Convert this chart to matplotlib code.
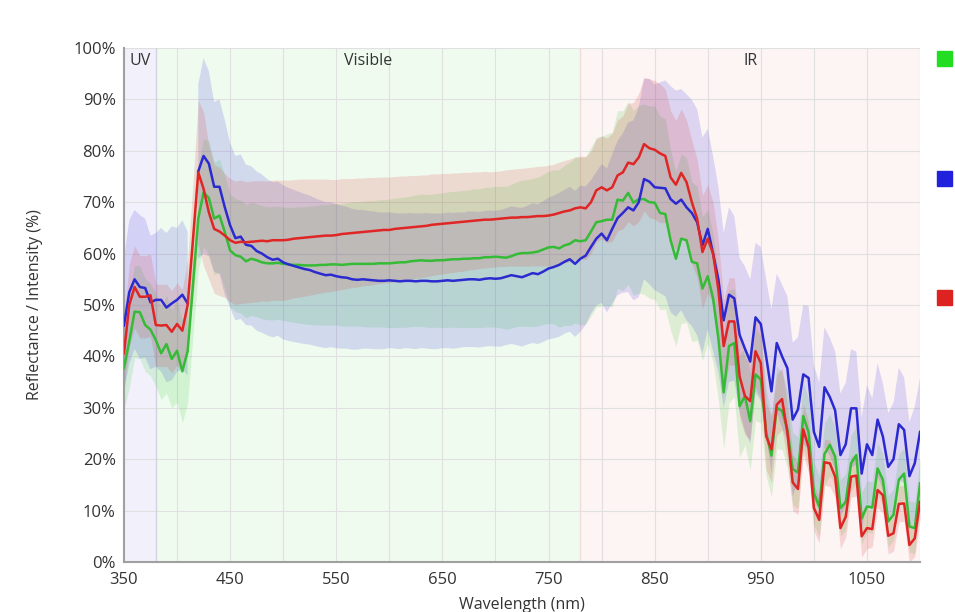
import numpy as np
import matplotlib
matplotlib.use("Agg")
import matplotlib.pyplot as plt
from matplotlib.patches import Rectangle

plt.rcParams['font.family'] = ['Open Sans', 'DejaVu Sans']

# wavelength grid, 5 nm steps
wavelength = np.arange(350, 1101, 5)

nan = np.nan

green_mean = [
    37.7, 42.9, 48.7, 48.6, 46.1, 45.2, 43.2, 40.6, 42.4, 39.5, 41.1, 37.1, 41.0,
    54.0, 66.8, 71.9, 70.8, 66.8, 67.4, 64.2, 60.6, 59.7, 59.4, 58.5, 59.0, 58.7, 58.3, 58.1, 58.1, 58.2, 58.0,
    57.9, 57.8, 57.8, 57.7, 57.7, 57.7, 57.8, 57.8, 57.9, 57.9, 57.8, 57.9, 58.0, 58.0, 58.0, 58.0, 58.0, 58.1, 58.1, 58.1,
    58.2, 58.3, 58.3, 58.5, 58.6, 58.7, 58.6, 58.6, 58.7, 58.7, 58.8, 58.9, 58.9, 59.0, 59.0, 59.1, 59.1, 59.3, 59.3, 59.4,
    59.3, 59.2, 59.5, 59.9, 60.1, 60.1, 60.2, 60.4, 60.8, 61.2, 61.3, 61.0, 61.6, 61.9, 62.6, 62.4,
    62.6, 64.3, 66.1, 66.3, 66.6, 66.6, 70.5, 70.3, 71.8, 69.9, 70.6, 70.6, 70.0, 69.9, 67.9, 67.7, 62.6, 59.0, 62.9, 62.6, 58.4, 58.1, 53.2, 55.6,
    51.3, 43.5, 33.0, 42.0, 42.6, 30.3, 32.3, 27.4, 36.5, 35.5, 25.2, 20.7, 30.0, 29.4, 25.8, 18.1, 17.4, 28.4, 25.2, 13.4,
    10.8, 21.0, 22.8, 20.5, 10.5, 11.7, 19.2, 20.8, 8.5, 10.8, 10.6, 18.2, 16.0, 7.9, 9.2, 16.0, 17.2, 6.9, 6.6, 15.3,
]

blue_mean = [
    46.0, 52.5, 55.0, 53.5, 53.3, 50.5, 51.0, 51.0, 49.5, 50.3, 51.0, 52.0, 50.3,
    nan, 76.0, 79.0, 77.5, 73.0, 73.0, 69.0, 65.5, 63.0, 63.3, 61.7, 61.5, 60.5, 60.0, 59.3, 58.8, 59.0, 58.3,
    57.9, 57.6, 57.3, 57.0, 56.8, 56.4, 56.1, 55.8, 55.9, 55.6, 55.4, 55.3, 55.0, 54.9, 55.0, 54.9, 54.8, 54.7, 54.7, 54.8,
    54.7, 54.6, 54.7, 54.7, 54.6, 54.7, 54.7, 54.6, 54.6, 54.7, 54.8, 54.7, 54.8, 54.9, 55.0, 55.0, 54.9, 55.1, 55.2, 55.1,
    55.2, 55.5, 55.8, 55.6, 55.4, 55.8, 56.2, 56.0, 56.5, 57.1, 57.4, 57.8, 58.4, 58.9, 58.0, 59.0,
    59.6, 61.3, 62.9, 63.9, 62.6, 64.8, 66.9, 67.9, 69.0, 68.4, 70.0, 74.5, 74.0, 72.9, 72.8, 72.7, 70.6, 69.7, 70.5, 69.0, 67.9, 66.1, 61.6, 64.8,
    60.0, 55.0, 47.0, 52.0, 51.3, 44.2, 41.5, 39.0, 47.6, 46.3, 40.0, 33.2, 42.6, 40.0, 37.7, 27.7, 29.7, 36.5, 35.8, 25.3,
    22.4, 34.0, 32.1, 29.5, 20.8, 22.9, 29.9, 29.9, 17.2, 22.9, 20.8, 27.7, 24.4, 18.5, 20.0, 26.8, 25.7, 16.7, 19.2, 25.3,
]

red_mean = [
    40.6, 50.0, 53.5, 51.6, 51.6, 51.9, 46.1, 46.0, 46.1, 44.8, 46.3, 45.0, 50.0,
    62.7, 75.8, 72.6, 68.0, 64.8, 64.3, 63.5, 62.6, 62.1, 62.3, 62.2, 62.3, 62.4, 62.5, 62.4, 62.6, 62.6, 62.6,
    62.7, 62.9, 63.0, 63.1, 63.2, 63.3, 63.4, 63.5, 63.5, 63.6, 63.8, 63.9, 64.0, 64.1, 64.2, 64.3, 64.4, 64.5, 64.6, 64.6,
    64.8, 64.9, 65.0, 65.1, 65.2, 65.3, 65.4, 65.6, 65.7, 65.8, 65.9, 66.0, 66.1, 66.2, 66.3, 66.4, 66.5, 66.6, 66.6, 66.7,
    66.8, 66.9, 67.0, 67.0, 67.1, 67.1, 67.2, 67.3, 67.3, 67.4, 67.6, 67.9, 68.2, 68.4, 68.8, 69.0,
    68.8, 70.0, 72.3, 72.9, 72.3, 72.9, 75.2, 75.8, 77.7, 77.4, 78.7, 81.3, 80.5, 80.2, 79.5, 79.0, 74.8, 73.4, 75.7, 73.9, 70.0, 66.8, 60.3, 62.9,
    60.0, 53.0, 42.0, 46.8, 46.8, 36.1, 32.3, 31.3, 41.0, 38.7, 24.5, 21.9, 30.6, 31.7, 25.2, 15.5, 14.2, 25.8, 22.3, 10.5,
    8.2, 19.4, 19.2, 16.6, 6.6, 8.8, 16.6, 16.8, 5.0, 6.6, 6.4, 14.0, 13.0, 5.1, 5.6, 11.3, 11.4, 3.3, 4.6, 11.7,
]

# spread (std) of each sample group
green_std = [
    8, 9, 9, 9, 9, 9, 9, 9, 9.5, 9.5, 10, 10, 10,
    10, 10, 10.5, 11, 11, 11, 11, 11, 11, 11, 11, 11, 11, 11, 11, 11, 11, 11,
    11.1, 11.2, 11.3, 11.4, 11.5, 11.6, 11.7, 11.7, 11.8, 11.8, 11.9, 12, 12.1, 12.1, 12.2, 12.3, 12.3, 12.4, 12.4, 12.5,
    12.6, 12.6, 12.7, 12.7, 12.8, 12.9, 12.9, 13.0, 13.0, 13.1, 13.2, 13.2, 13.3, 13.3, 13.4, 13.5, 13.5, 13.6, 13.6, 13.7,
    13.8, 13.9, 14, 14.1, 14.2, 14.3, 14.4, 14.5, 14.6, 14.8, 15, 15.3, 15.6, 15.9, 16.1, 16.3,
    16.3, 16.4, 16.5, 16.5, 16.7, 17, 17.3, 17.5, 17.8, 18, 18.3, 18.5, 18.7, 18.8, 18.8, 18.5, 17.5, 17, 16.5, 16, 15.5, 15, 14, 13,
    12.5, 12, 11, 11, 10.5, 10, 9.5, 9.5, 9, 8.5, 8.5, 8, 8, 7.5, 7.5, 7, 7, 6.5, 6.5, 6,
    6, 6, 6, 5.5, 5.5, 5.5, 5.5, 5.5, 5, 5, 5, 5, 5, 5, 5, 5, 5, 5, 5, 5,
]

blue_std = [
    13, 14, 13.5, 14, 13.5, 13, 13, 14, 14.5, 15, 14, 14.5, 14,
    nan, 17, 19, 18, 16.5, 17, 17, 16, 16, 16, 15.6, 15.5, 15.5, 15.4, 15.2, 15.1, 15, 15,
    14.9, 14.8, 14.7, 14.6, 14.5, 14.4, 14.3, 14.2, 14.1, 14.0, 13.9, 13.8, 13.7, 13.6, 13.5, 13.4, 13.4, 13.3, 13.3, 13.2,
    13.2, 13.2, 13.1, 13.2, 13.2, 13.1, 13.2, 13.2, 13.2, 13.1, 13.2, 13.2, 13.2, 13.1, 13.2, 13.2, 13.2, 13.2, 13.2, 13.2,
    13.3, 13.3, 13.4, 13.4, 13.5, 13.5, 13.6, 13.6, 13.7, 13.8, 13.9, 14.0, 14.0, 14.1, 14.2, 14.2,
    13.5, 13, 13, 13.5, 14, 14.5, 15, 15.5, 16.5, 17.5, 18.5, 19.5, 20, 20, 20.5, 21, 22, 22, 21.5, 22, 22, 22, 21, 19.5,
    19, 18, 17, 17, 16, 15, 16, 16, 14.5, 15, 15, 16, 13.5, 14, 14, 15, 14, 13.5, 14, 13,
    12.5, 11.7, 11.5, 11.5, 12, 12, 11.5, 11, 11, 11.5, 11, 11, 10.3, 10.5, 11, 11, 10.2, 10.5, 11, 10.5,
]

red_std = [
    7, 8, 8, 8, 8, 8, 8, 8, 8, 8, 8, 8, 9,
    11, 14, 15, 13, 12.5, 12.5, 12, 12, 12, 12, 11.8, 11.8, 11.8, 11.7, 11.7, 11.7, 11.7, 11.7,
    11.6, 11.5, 11.5, 11.4, 11.3, 11.2, 11.1, 11.0, 10.9, 10.8, 10.8, 10.7, 10.6, 10.6, 10.5, 10.5, 10.4, 10.4, 10.3, 10.3,
    10.2, 10.2, 10.1, 10.1, 10.0, 10.0, 9.9, 9.9, 9.8, 9.8, 9.7, 9.7, 9.6, 9.6, 9.5, 9.5, 9.4, 9.4, 9.3, 9.3,
    9.3, 9.4, 9.4, 9.5, 9.5, 9.6, 9.6, 9.7, 9.7, 9.8, 9.8, 9.9, 9.9, 10, 10, 10,
    10, 10, 10, 10, 10.2, 10.5, 10.8, 11, 11.5, 12, 12.5, 13, 13.5, 13.5, 13.5, 13, 13, 12.5, 12.5, 12, 12, 11.5, 11, 10.5,
    10, 9.5, 9, 8.5, 8.5, 8, 7.5, 7.5, 7, 7, 6.5, 6.5, 6, 6, 5.5, 5.5, 5, 5, 5, 4.5,
    4.5, 4.5, 4.5, 4, 4, 4, 4, 4, 4, 4, 3.5, 3.5, 3.5, 3.5, 3.5, 3.5, 3.5, 3.5, 3.5, 3.5,
]

series = [
    ("green", green_mean, green_std, "#35bb35", "#33cc33"),
    ("blue", blue_mean, blue_std, "#2a2ad0", "#3333dd"),
    ("red", red_mean, red_std, "#e02525", "#dd3333"),
]

fig = plt.figure(figsize=(9.55, 6.12), dpi=100)
ax = fig.add_axes([0.1298, 0.0817, 0.8336, 0.8399])

# spectral regions
ax.axvspan(350, 380, color="#f2f1fb", lw=0, zorder=0)
ax.axvspan(380, 780, color="#f0fbf0", lw=0, zorder=0)
ax.axvspan(780, 1100, color="#fdf4f4", lw=0, zorder=0)
ax.axvline(380, color="#d4d2e2", lw=1.0, zorder=1)
ax.axvline(780, color="#eddcdc", lw=1.0, zorder=1)

ax.text(365, 97.5, "UV", ha="center", va="center", fontsize=11.5, color="#333333")
ax.text(580, 97.5, "Visible", ha="center", va="center", fontsize=11.5, color="#333333")
ax.text(940, 97.5, "IR", ha="center", va="center", fontsize=11.5, color="#333333")

for name, mean, std, line_col, band_col in series:
    mean = np.array(mean, dtype=float)
    std = np.array(std, dtype=float)
    ax.fill_between(wavelength, mean - std, mean + std, color=band_col,
                    alpha=0.16, lw=0, zorder=2)

for name, mean, std, line_col, band_col in series:
    ax.plot(wavelength, mean, color=line_col, lw=1.8, zorder=3)

ax.set_xlim(350, 1100)
ax.set_ylim(0, 100)
ax.set_xticks(np.arange(350, 1100, 100))
ax.set_xticks(np.arange(350, 1101, 50), minor=True)
ax.set_yticks(np.arange(0, 101, 10))
ax.set_yticklabels([f"{v}%" for v in range(0, 101, 10)])
ax.grid(which="both", color="#e0e0e0", lw=0.8, zorder=1)
ax.set_axisbelow(True)
ax.tick_params(which="both", length=0, labelsize=12, labelcolor="#333333")
ax.tick_params(axis="x", pad=7)
ax.tick_params(axis="y", pad=6)

for s in ["top", "right"]:
    ax.spines[s].set_visible(False)
for s in ["left", "bottom"]:
    ax.spines[s].set_color("#a0a0a0")
    ax.spines[s].set_linewidth(1.5)

fig.text(35 / 955, 0.5016, "Reflectance / Intensity (%)", rotation=90,
         ha="center", va="center", fontsize=11.5, color="#333333")
fig.text(0.5466, 0.011, "Wavelength (nm)", ha="center", va="center",
         fontsize=11.5, color="#333333")

# legend swatches (labels are cut off in the source)
for y0, col in [(0.8922, "#22dd22"), (0.6961, "#2222dd"), (0.5016, "#dd2222")]:
    fig.add_artist(Rectangle((937 / 955, y0), 15 / 955, 15 / 612,
                             transform=fig.transFigure, color=col))

plt.savefig("out.png", dpi=100)
